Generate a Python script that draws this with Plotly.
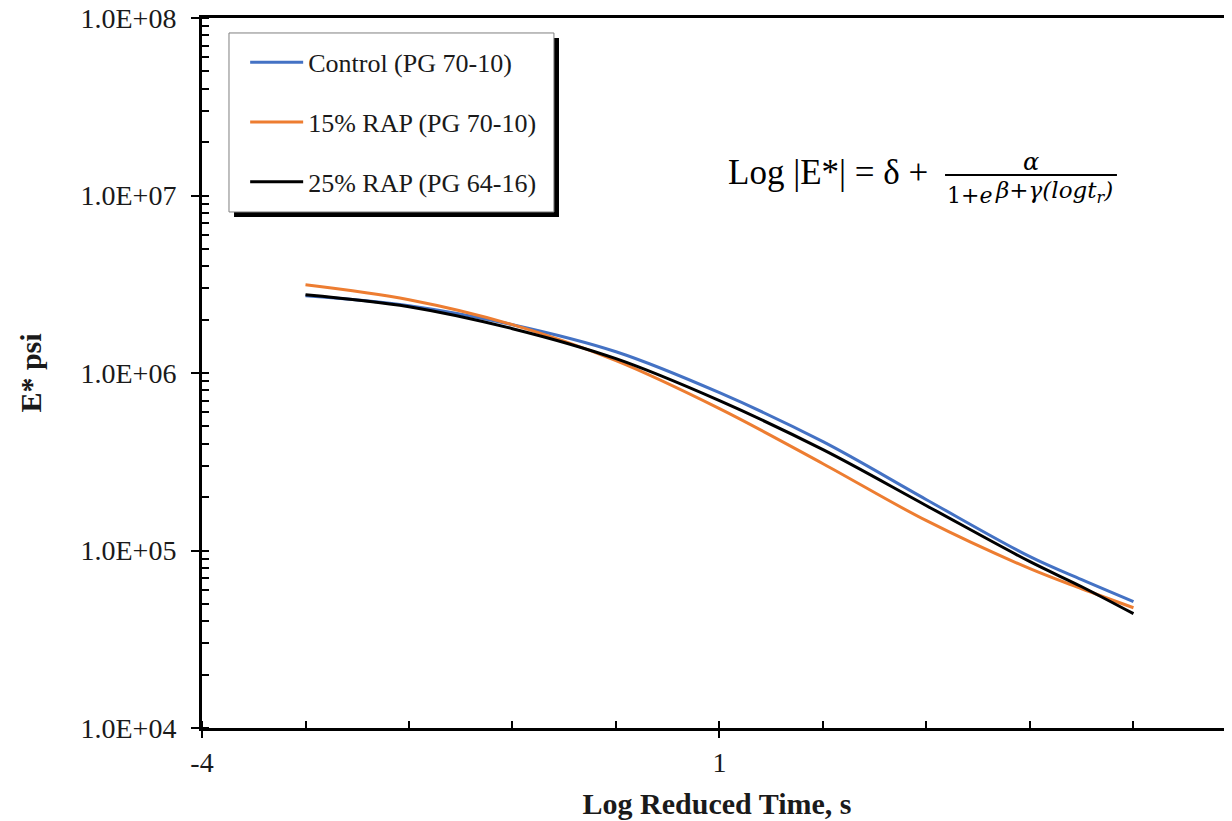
import plotly.graph_objects as go

# ---------------- data ----------------
log_time = [-3, -2, -1, 0, 1, 2, 3, 4, 4.5, 5]
control_pg7010 = [2.726e6, 2.394e6, 1.872e6, 1.318e6, 7.745e5, 4.102e5, 1.933e5, 9.23e4, 6.847e4, 5.148e4]
rap15_pg7010 = [3.144e6, 2.588e6, 1.872e6, 1.173e6, 6.295e5, 3.083e5, 1.472e5, 7.9e4, 6.09e4, 4.76e4]
rap25_pg6416 = [2.761e6, 2.363e6, 1.777e6, 1.204e6, 6.982e5, 3.698e5, 1.788e5, 8.65e4, 6.25e4, 4.405e4]

series_names = ["Control (PG 70-10)", "15% RAP (PG 70-10)", "25% RAP (PG 64-16)"]
series_colors = ["#4472C4", "#ED7D31", "#000000"]

y_tickvals = [1e4, 1e5, 1e6, 1e7, 1e8]
y_ticktext = ["1.0E+04", "1.0E+05", "1.0E+06", "1.0E+07", "1.0E+08"]
x_tickvals = [-4, 1, 6]
x_ticktext = ["-4", "1", "6"]

SERIF = "Liberation Serif"
TXT = "#1a1a1a"

fig = go.Figure()
for name, vals, col in zip(series_names, [control_pg7010, rap15_pg7010, rap25_pg6416], series_colors):
    fig.add_trace(go.Scatter(
        x=log_time, y=vals, mode="lines", name=name, legendgroup=name,
        line=dict(color=col, width=3, shape="spline", smoothing=1.0),
    ))

# legend box (white box with grey border and black drop shadow)
shapes = [
    dict(type="rect", xref="paper", yref="paper", x0=0.0311, x1=0.3466, y0=0.7197, y1=0.9718,
         fillcolor="black", line=dict(width=0), layer="above"),
    dict(type="rect", xref="paper", yref="paper", x0=0.0262, x1=0.3417, y0=0.7268, y1=0.9789,
         fillcolor="white", line=dict(color="#7f7f7f", width=1), layer="above"),
    # fraction bar of the equation
    dict(type="line", xref="paper", yref="paper", x0=0.7214, x1=0.8883, y0=0.7789, y1=0.7789,
         line=dict(color="black", width=2), layer="above"),
]

annotations = [
    dict(text="6", xref="paper", yref="paper", x=1.0049, y=-0.049, showarrow=False,
         xanchor="center", yanchor="middle", font=dict(family=SERIF, size=28, color=TXT)),
    dict(text="Log |E*| = δ +", xref="paper", yref="paper", x=0.7068, y=0.7817, showarrow=False,
         xanchor="right", yanchor="middle", font=dict(family=SERIF, size=35, color="black")),
    dict(text="<i>α</i>", xref="paper", yref="paper", x=0.8049, y=0.797, showarrow=False,
         xanchor="center", yanchor="middle", font=dict(family="DejaVu Serif", size=24, color="black")),
    dict(text="1+<i>e</i>", xref="paper", yref="paper", x=0.7214, y=0.7495, showarrow=False,
         xanchor="left", yanchor="middle", font=dict(family="DejaVu Serif", size=22, color="black")),
    dict(text="<i>β+γ(logt<sub>r</sub>)</i>", xref="paper", yref="paper", x=0.768, y=0.755, showarrow=False,
         xanchor="left", yanchor="middle", font=dict(family="DejaVu Serif", size=23, color="black")),
]

# The page body has an 8 px margin, so the figure is 8 px smaller and margins are shifted accordingly.
fig.update_layout(
    width=1224, height=813,
    margin=dict(l=194, r=0, t=10, b=93, pad=0, autoexpand=False),
    paper_bgcolor="white", plot_bgcolor="white",
    showlegend=True,
    legend=dict(
        x=0.0419, y=0.9706, xanchor="left", yanchor="top",
        bgcolor="rgba(0,0,0,0)", borderwidth=0,
        font=dict(family=SERIF, size=26, color=TXT),
        tracegroupgap=23, itemwidth=53, traceorder="grouped",
    ),
    shapes=shapes,
    annotations=annotations,
    xaxis=dict(
        range=[-4, 5.952], tickmode="array", tickvals=x_tickvals, ticktext=x_ticktext,
        showgrid=False, zeroline=False,
        showline=True, linecolor="black", linewidth=3, mirror=True,
        ticks="outside", ticklen=7, tickwidth=1.5, tickcolor="black",
        minor=dict(ticks="inside", ticklen=7, tickwidth=1.5, tickcolor="black", dtick=1, tick0=0, showgrid=False),
        tickfont=dict(family=SERIF, size=28, color=TXT),
        title=dict(text="<b>Log Reduced Time, s</b>", standoff=17,
                   font=dict(family=SERIF, size=30, color=TXT)),
    ),
    yaxis=dict(
        type="log", range=[4, 8], tickmode="array", tickvals=y_tickvals, ticktext=y_ticktext,
        showgrid=False, zeroline=False,
        showline=True, linecolor="black", linewidth=3, mirror=False,
        ticks="outside", ticklen=8, tickwidth=1.5, tickcolor="black",
        minor=dict(ticks="inside", ticklen=7, tickwidth=1.5, tickcolor="black", dtick="D1", showgrid=False),
        tickfont=dict(family=SERIF, size=28, color=TXT),
        ticklabelstandoff=9, ticklabeloverflow="allow",
        title=dict(text="<b>E* psi</b>", standoff=30,
                   font=dict(family=SERIF, size=30, color=TXT)),
    ),
)

fig.write_html("out.html")
